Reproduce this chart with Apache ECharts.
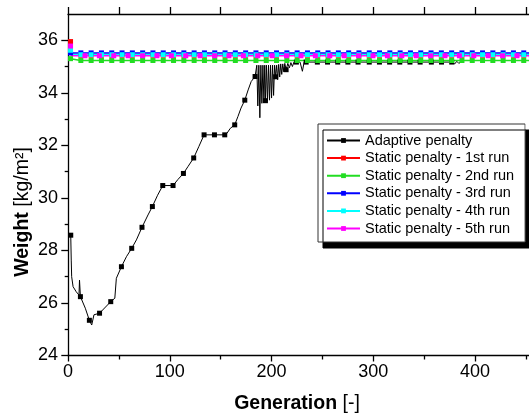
<!DOCTYPE html>
<html><head><meta charset="utf-8">
<script src="https://cdn.jsdelivr.net/npm/echarts@6/dist/echarts.min.js"></script>
<style>html,body{margin:0;padding:0;background:#fff}#c{width:529px;height:420px}</style>
</head><body><div id="c"></div>
<script>
// ---- data ----
const xTicks = [0, 100, 200, 300, 400];
const xMinorTicks = [50, 150, 250, 350, 450];
const xTopTicks = [0, 50, 100, 150, 200, 250, 300, 350, 400, 450];
const yTicks = [24, 26, 28, 30, 32, 34, 36];
const yMinorTicks = [25, 27, 29, 31, 33, 35];

const seriesNames = ['Adaptive penalty', 'Static penalty - 1st run', 'Static penalty - 2nd run',
  'Static penalty - 3rd run', 'Static penalty - 4th run', 'Static penalty - 5th run'];

const adaptiveGen = [2.7, 3.2, 3.6, 5, 8, 10.8, 11.3, 12.2, 17, 21, 23.3, 25.5, 31, 42, 46, 47.5, 52.5, 57.4,
  62.6, 67.2, 72.7, 78.6, 82.9, 88, 93.1, 103.2, 108, 113.4, 118, 123.5, 128.5, 133.7, 143.9, 154, 156,
  159.5, 163.8, 167, 170, 173.7, 177, 180, 183.8, 185.5, 186.5, 187.5, 188.5, 189.5, 190.5, 191.5, 192.5,
  193.3, 194, 195, 196, 197, 198, 199, 200, 201, 202, 203, 204, 205, 206, 207, 208, 209, 210, 211, 212,
  213, 214.3, 216, 217.5, 219, 220.5, 222, 224.4, 228, 230.3, 232, 234, 245, 255, 265, 275, 285, 296,
  306, 316, 326, 336, 346, 357, 367, 377, 380, 382, 384, 386];
const adaptiveVal = [28.58, 27.6, 27.0, 26.62, 26.43, 26.3, 26.87, 26.24, 25.8, 25.34, 25.16, 25.55, 25.61,
  26.05, 26.18, 26.94, 27.38, 27.76, 28.08, 28.4, 28.88, 29.35, 29.67, 30.1, 30.47, 30.47, 30.7, 30.93,
  31.2, 31.52, 31.95, 32.4, 32.4, 32.4, 32.45, 32.65, 32.78, 33.1, 33.42, 33.72, 34.11, 34.43, 34.62,
  35.05, 33.5, 35.05, 33.05, 35.05, 33.6, 35.05, 33.65, 35.05, 33.7, 35.05, 33.68, 35.05, 33.72, 35.05,
  33.8, 35.05, 33.9, 35.05, 34.61, 35.05, 34.5, 35.08, 34.6, 35.1, 34.7, 35.1, 34.8, 35.12, 34.88, 35.12,
  34.95, 35.15, 35.0, 35.17, 35.17, 35.17, 34.82, 35.17, 35.17, 35.17, 35.17, 35.17, 35.17, 35.17, 35.17,
  35.17, 35.17, 35.17, 35.17, 35.17, 35.17, 35.17, 35.17, 35.1, 35.2, 35.12, 35.18];
const adaptiveMarkerGens = [2.7, 12.2, 21, 31, 42, 52.5, 62.6, 72.7, 82.9, 93.1, 103.2, 113.4, 123.5, 133.7,
  143.9, 154, 163.8, 173.7, 183.8, 194, 204, 214.3, 224.4, 234, 245, 255, 265, 275, 285, 296, 306, 316,
  326, 336, 346, 357, 367, 377];

// static runs: value at first generation, then constant value afterwards
const staticStartVal = [35.95, 35.30, 35.52, 35.62, 35.78];
const staticFlatVal = [35.43, 35.23, 35.52, 35.45, 35.41];
const staticSampleStep = [10.12, 10.12, 10.12, 10.12, 14.15]; // generations between plotted samples
const staticFirstGen = 2.5;
const lastGen = 470;

// ---- build ----
const colors = ['#000000', '#ff0000', '#22dd22', '#0000ff', '#00ffff', '#ff00ff'];
const FONT = 'Liberation Sans, Arial, sans-serif';

const adaptiveData = adaptiveGen.map((g, i) => {
  const item = { value: [g, adaptiveVal[i]] };
  if (adaptiveMarkerGens.indexOf(g) < 0) item.symbol = 'none';
  return item;
});

function staticData(i) {
  const d = [{ value: [staticFirstGen, staticStartVal[i]] },
             { value: [staticFirstGen + 0.8, staticFlatVal[i]], symbol: 'none' }];
  for (let k = 1; staticFirstGen + k * staticSampleStep[i] <= lastGen; k++) {
    d.push({ value: [staticFirstGen + k * staticSampleStep[i], staticFlatVal[i]] });
  }
  return d;
}

const series = [{
  name: seriesNames[0], type: 'line', data: adaptiveData,
  symbol: 'rect', symbolSize: 5, showSymbol: true,
  lineStyle: { color: colors[0], width: 1 }, itemStyle: { color: colors[0] }
}];
for (let i = 0; i < 5; i++) {
  series.push({
    name: seriesNames[i + 1], type: 'line', data: staticData(i),
    symbol: 'rect', symbolSize: 5, showSymbol: true,
    lineStyle: { color: colors[i + 1], width: 1.5 }, itemStyle: { color: colors[i + 1] }
  });
}

const tickStyle = { color: '#000', width: 1.3 };
const axisLine = { show: true, lineStyle: { color: '#000', width: 1.3 } };
const noLine = { show: false };
// the plot frame runs past the right edge of the picture
const xBase = { type: 'value', min: 0, max: 472.6, splitLine: { show: false } };
const yBase = { type: 'value', min: 24, max: 37, splitLine: { show: false } };
const gridRect = { left: 68, top: 14, right: -20, bottom: 64.5, outerBoundsMode: 'none' };

// white strips hiding a stray edge line at the picture's right border
const edgeCover = [[16, 49], [64, 129], [249, 353]].map(r => ({
  type: 'rect', z: 100, silent: true,
  shape: { x: 525.5, y: r[0], width: 4, height: r[1] - r[0] },
  style: { fill: '#fff' }
}));

const option = {
  animation: false,
  backgroundColor: '#fff',
  grid: [Object.assign({}, gridRect), Object.assign({}, gridRect)],
  xAxis: [
    Object.assign({}, xBase, { gridIndex: 0, position: 'bottom', axisLine: axisLine,
      axisTick: { show: true, inside: false, length: 6, customValues: xTicks, lineStyle: tickStyle },
      axisLabel: { show: true, customValues: xTicks, fontSize: 18, color: '#000', fontFamily: FONT, margin: 8 } }),
    Object.assign({}, xBase, { gridIndex: 0, position: 'top', axisLine: axisLine,
      axisTick: { show: true, inside: false, length: 7, customValues: xTopTicks, lineStyle: tickStyle },
      axisLabel: { show: false } }),
    Object.assign({}, xBase, { gridIndex: 1, position: 'bottom', axisLine: noLine,
      axisTick: { show: true, inside: false, length: 4, customValues: xMinorTicks, lineStyle: tickStyle },
      axisLabel: { show: false } })
  ],
  yAxis: [
    Object.assign({}, yBase, { gridIndex: 0, position: 'left', axisLine: axisLine,
      axisTick: { show: true, inside: false, length: 6.7, customValues: yTicks, lineStyle: tickStyle },
      axisLabel: { show: true, customValues: yTicks, fontSize: 18, color: '#000', fontFamily: FONT, margin: 10 } }),
    Object.assign({}, yBase, { gridIndex: 1, position: 'left', axisLine: noLine,
      axisTick: { show: true, inside: false, length: 3.3, customValues: yMinorTicks, lineStyle: tickStyle },
      axisLabel: { show: false } })
  ],
  legend: {
    data: seriesNames, orient: 'vertical', left: 318, top: 124,
    itemWidth: 33, itemHeight: 6, itemGap: 2.6,
    padding: [9, 11, 6, 8],
    backgroundColor: '#fff', borderColor: '#333', borderWidth: 1,
    shadowColor: '#000', shadowBlur: 0, shadowOffsetX: 5, shadowOffsetY: 6,
    textStyle: { fontSize: 14.5, color: '#000', fontFamily: FONT, lineHeight: 15 }
  },
  series: series,
  graphic: [
    { type: 'text', x: 297, y: 404,
      style: { text: '{b|Generation} [-]', fill: '#000', fontSize: 19.5, fontFamily: FONT,
        align: 'center', verticalAlign: 'middle',
        rich: { b: { fontWeight: 'bold', fontSize: 19.5, fontFamily: FONT, fill: '#000' } } } },
    { type: 'text', x: 23, y: 212, rotation: Math.PI / 2,
      style: { text: '{b|Weight} [kg/m²]', fill: '#000', fontSize: 19.5, fontFamily: FONT,
        align: 'center', verticalAlign: 'middle',
        rich: { b: { fontWeight: 'bold', fontSize: 19.5, fontFamily: FONT, fill: '#000' } } } }
  ].concat(edgeCover)
};

const chart = echarts.init(document.getElementById('c'), null, { renderer: 'canvas' });
chart.setOption(option);
</script>
</body></html>
